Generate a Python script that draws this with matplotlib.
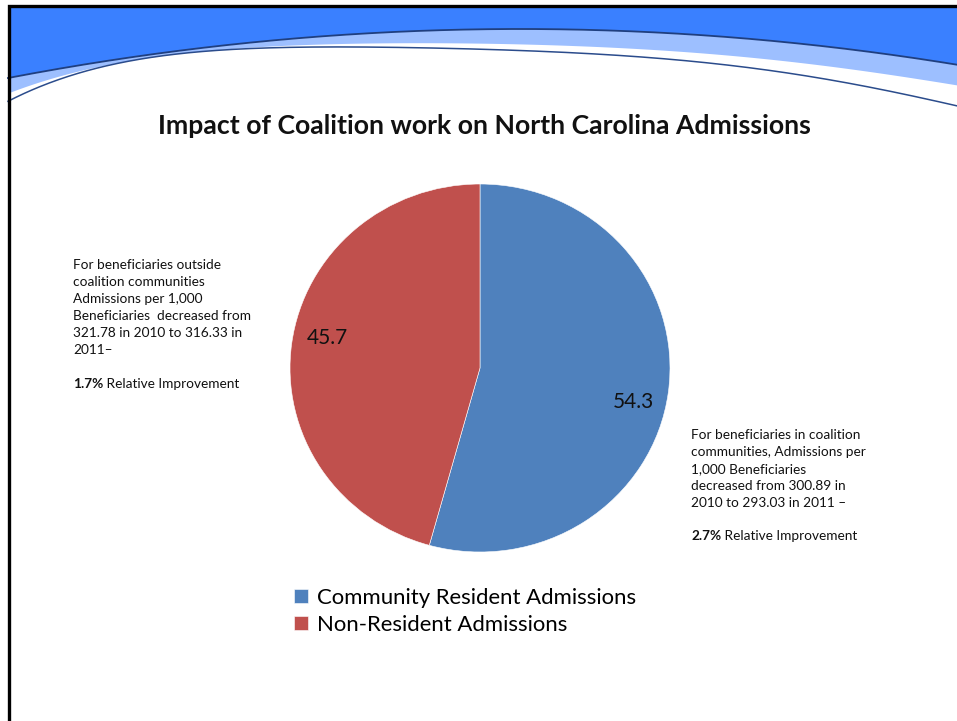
import numpy as np
import matplotlib
matplotlib.use("Agg")
import matplotlib.pyplot as plt

plt.rcParams['font.family'] = ['Lato', 'DejaVu Sans']

# data
labels = ['Community Resident Admissions', 'Non-Resident Admissions']
values = [54.3, 45.7]
colors = ['#4F81BD', '#C0504D']

title = 'Impact of Coalition work on North Carolina Admissions'
left_note = ('For beneficiaries outside\ncoalition communities\nAdmissions per 1,000\n'
             'Beneficiaries  decreased from\n321.78 in 2010 to 316.33 in\n2011–')
left_pct = '1.7%'
right_note = ('For beneficiaries in coalition\ncommunities, Admissions per\n1,000 Beneficiaries\n'
              'decreased from 300.89 in\n2010 to 293.03 in 2011 –')
right_pct = '2.7%'

W, H = 957, 721
fig = plt.figure(figsize=(W / 100, H / 100), dpi=100)

# background axes in pixel coords (y down)
bg = fig.add_axes([0, 0, 1, 1])
bg.set_xlim(0, W)
bg.set_ylim(H, 0)
bg.axis('off')

# slide header waves
x = np.linspace(8, W, 600)
upper = 1.87e-4 * (x - 520) ** 2 + 29
pts_l = np.array([[8, 102], [40, 86], [80, 72], [120, 63], [250, 50], [403, 46],
                  [600, 55], [860, 85], [957, 106]])
lower = np.polyval(np.polyfit(pts_l[:, 0], pts_l[:, 1], 5), x)
pts_w = np.array([[8, 93], [40, 82], [80, 70], [120, 62], [250, 48], [403, 42],
                  [600, 47], [860, 70], [957, 85]])
band = np.polyval(np.polyfit(pts_w[:, 0], pts_w[:, 1], 5), x)
band = np.maximum(band, upper)

bg.fill_between(x, 7, upper, color='#3A80FF', lw=0, zorder=1)
bg.fill_between(x, upper, band, color='#9DBFFF', lw=0, zorder=1)
bg.plot(x, upper, color='#1F3F80', lw=1.3, zorder=2)
bg.plot(x, lower, color='#2B4C8C', lw=1.1, zorder=2)
# border
bg.plot([8.5, 8.5, W], [H, 5.5, 5.5], color='black', lw=2.4, zorder=3,
        solid_joinstyle='miter')

bg.text(484, 126, title, fontsize=19.2, fontweight='bold', ha='center',
        va='center', color='#111111')

# notes
fs = 9.8
bg.text(73, 259, left_note, fontsize=fs, ha='left', va='top', linespacing=1.5,
        color='#111111')
t1 = bg.text(73, 384, left_pct, fontsize=fs, fontweight='bold', ha='left',
             va='center', color='#111111')
bg.annotate(' Relative Improvement', xy=(1, 0), xycoords=t1, fontsize=fs,
            ha='left', va='bottom', color='#111111')

bg.text(691, 429, right_note, fontsize=fs, ha='left', va='top', linespacing=1.5,
        color='#111111')
t2 = bg.text(691, 536, right_pct, fontsize=fs, fontweight='bold', ha='left',
             va='center', color='#111111')
bg.annotate(' Relative Improvement', xy=(1, 0), xycoords=t2, fontsize=fs,
            ha='left', va='bottom', color='#111111')

# pie
cx, cy, rx, ry = 480, 368, 190, 184
ax = fig.add_axes([(cx - rx) / W, (H - cy - ry) / H, 2 * rx / W, 2 * ry / H])
wedges, _, autotexts = ax.pie(values, colors=colors, startangle=90, counterclock=False,
                              autopct='%.1f', pctdistance=0.81,
                              wedgeprops=dict(edgecolor='white', linewidth=0.4),
                              textprops=dict(fontsize=15, color='#111111'))
ax.set_aspect('auto')
ax.set_xlim(-1, 1)
ax.set_ylim(-1, 1)
# label positions as placed in the original
autotexts[0].set_position((0.805, -0.185))
autotexts[1].set_position((-0.805, 0.163))

fig.legend(wedges, labels, loc='upper left', bbox_to_anchor=(294 / W, 1 - 588 / H),
           frameon=False, fontsize=15.9, handlelength=0.62, handleheight=0.62,
           handletextpad=0.4, labelspacing=0.32, borderpad=0, borderaxespad=0)

fig.savefig('out.png', dpi=100)
